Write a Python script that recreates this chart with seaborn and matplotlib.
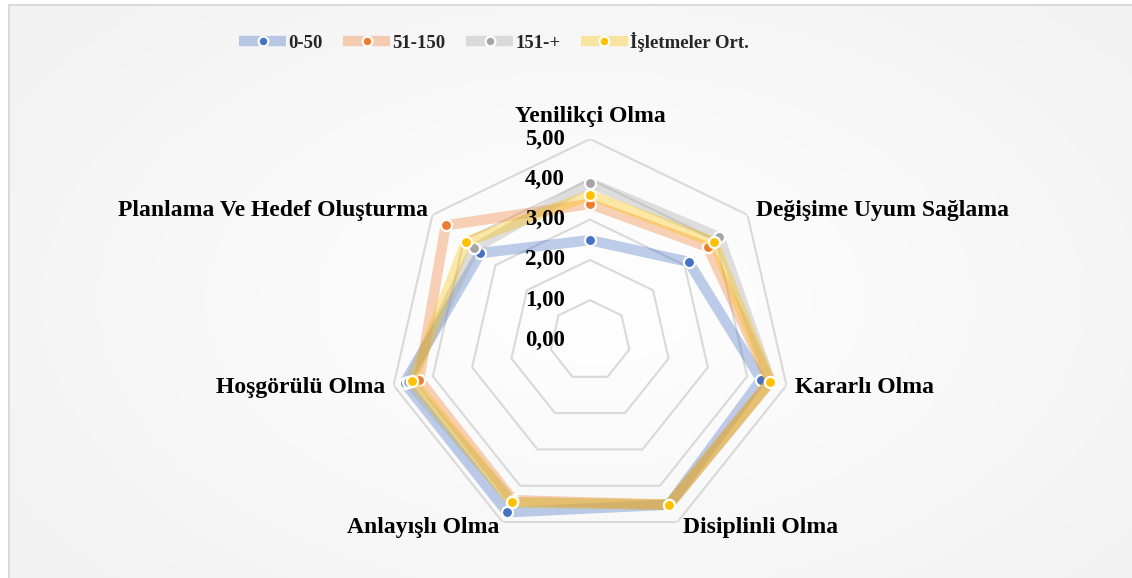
import numpy as np
import pandas as pd
import matplotlib
matplotlib.use('Agg')
import matplotlib.pyplot as plt
from matplotlib.lines import Line2D
from matplotlib.patches import Rectangle
import seaborn as sns

# data
categories = ['Yenilikçi Olma', 'Değişime Uyum Sağlama', 'Kararlı Olma',
              'Disiplinli Olma', 'Anlayışlı Olma', 'Hoşgörülü Olma',
              'Planlama Ve Hedef Oluşturma']
series_names = ['0-50', '51-150', '151-+', 'İşletmeler Ort.']
vals_0_50 = [2.49, 3.13, 4.36, 4.52, 4.73, 4.72, 3.48]
vals_51_150 = [3.39, 3.73, 4.58, 4.52, 4.40, 4.35, 4.58]
vals_151 = [3.91, 4.11, 4.60, 4.53, 4.45, 4.62, 3.67]
vals_ort = [3.61, 3.92, 4.59, 4.52, 4.46, 4.52, 3.93]
tick_vals = [0, 1, 2, 3, 4, 5]
tick_labels = ['0,00', '1,00', '2,00', '3,00', '4,00', '5,00']

colors = ['#4472C4', '#ED7D31', '#A5A5A5', '#FFC000']
all_vals = [vals_0_50, vals_51_150, vals_151, vals_ort]

sns.set_style('white')
plt.rcParams['font.family'] = ['Liberation Serif', 'DejaVu Serif']
plt.rcParams['font.weight'] = 'bold'

W, H = 1132, 578
fig = plt.figure(figsize=(W / 100, H / 100), dpi=100)
fig.patch.set_facecolor('white')

# background panel with a soft gradient like the Excel chart area
bg = fig.add_axes([0, 0, 1, 1])
bg.set_axis_off()
yy, xx = np.mgrid[0:H, 0:W]
d = np.sqrt(((xx - 590) / 700.0) ** 2 + ((yy - 300) / 420.0) ** 2)
shade = 1.0 - 0.05 * np.clip(d, 0, 1)
bg.imshow(np.dstack([shade] * 3), extent=[0, W, H, 0], aspect='auto')
bg.add_patch(Rectangle((8, 4), W, H, fill=False, edgecolor='#D9D9D9', lw=2))
bg.set_xlim(0, W)
bg.set_ylim(H, 0)
bg.add_patch(Rectangle((0, 0), 8, H, facecolor='white', edgecolor='none'))
bg.add_patch(Rectangle((0, 0), W, 4, facecolor='white', edgecolor='none'))

# polar axes placed so that the centre sits at (590, 340.5) px
cx, cy, R = 590, 340.5, 201.5
ax = fig.add_axes([(cx - R) / W, (H - cy - R) / H, 2 * R / W, 2 * R / H],
                  projection='polar')
ax.set_facecolor('none')
ax.set_theta_offset(np.pi / 2)
ax.set_theta_direction(-1)
ax.set_ylim(0, 5)
ax.grid(False)
ax.spines['polar'].set_visible(False)
ax.set_xticks([])
ax.set_yticks([])

n = len(categories)
angles = np.linspace(0, 2 * np.pi, n, endpoint=False)
closed_ang = np.append(angles, angles[0])

# polygon gridlines
for t in tick_vals[1:]:
    ax.plot(closed_ang, [t] * (n + 1), color='#D9D9D9', lw=1.5, zorder=1)

for i, (name, vals, c) in enumerate(zip(series_names, all_vals, colors)):
    df = pd.DataFrame({'theta': closed_ang, 'r': vals + [vals[0]]})
    sns.lineplot(data=df, x='theta', y='r', sort=False, ax=ax, color=c,
                 alpha=0.35, lw=7.5, zorder=2 + 2 * i, estimator=None)
    ax.plot(angles, vals, ls='none', marker='o', ms=8, mfc=c, mec='white',
            mew=1.6, zorder=3 + 2 * i, clip_on=False)

# radial value labels
for t, lab in zip(tick_vals, tick_labels):
    ax.annotate(lab, xy=(0, t), xytext=(-18, 0), textcoords='offset points',
                ha='right', va='center', fontsize=16.5, fontweight='bold',
                color='black', zorder=20)

# category labels
offsets = [(0, 16, 'center'), (6, 3, 'left'), (6, -1.5, 'left'),
           (4, -4, 'left'), (-2, -4, 'right'), (-6, -1.5, 'right'),
           (-3, 3, 'right')]
for ang, lab, (dx, dy, ha) in zip(angles, categories, offsets):
    ax.annotate(lab, xy=(ang, 5), xytext=(dx, dy), textcoords='offset points',
                ha=ha, va='center', fontsize=17, fontweight='bold',
                color='black', annotation_clip=False)

# legend
handles = [Line2D([0], [0], color=c, alpha=0.35, lw=7.5,
                  solid_capstyle='butt') for c in colors]
mk = [Line2D([0], [0], ls='none', marker='o', ms=7, mfc=c, mec='white', mew=1.6)
      for c in colors]
leg = fig.legend(handles=list(zip(handles, mk)), labels=series_names,
                 loc='center', bbox_to_anchor=(494 / W, 1 - 42 / H), ncol=4,
                 frameon=False, handlelength=2.5,
                 handletextpad=0.12, columnspacing=1.1,
                 prop={'weight': 'bold', 'size': 13.5})

fig.savefig('out.png', dpi=100, facecolor=fig.get_facecolor())
